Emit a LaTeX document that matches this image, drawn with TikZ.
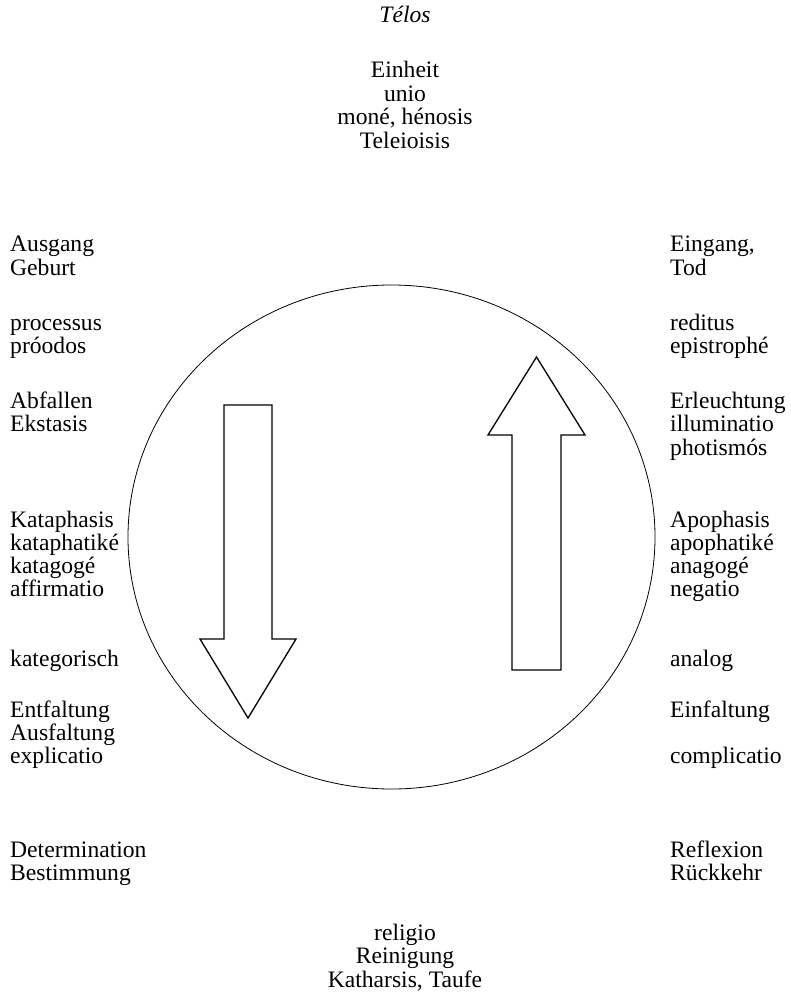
\documentclass[tikz,border=0pt]{standalone}
\usepackage{fontspec}
\setmainfont{Liberation Serif}
\begin{document}
\begin{tikzpicture}[x=1pt,y=-1pt,
  lbl/.style={inner sep=0pt,font=\fontsize{23.6}{26}\selectfont},
  lft/.style={lbl,anchor=base west},
  ctr/.style={lbl,anchor=base},
  bigarrow/.style={draw,line width=1.3pt,line join=miter,fill=white},
  ring/.style={draw,line width=0.8pt}]
\useasboundingbox (0,0) rectangle (790,1000);
\path[fill=white] (0,0) rectangle (790,1000);
% circle
\draw[ring] (391.5,537) ellipse [x radius=263.5, y radius=252];
% arrows
\draw[bigarrow] (224,405) -- (272,405) -- (272,639) -- (296,639) -- (248,718) -- (200,639) -- (224,639) -- cycle;
\draw[bigarrow] (512,670) -- (561,670) -- (561,435) -- (585,435) -- (536.5,357) -- (488,435) -- (512,435) -- cycle;
% top
\foreach \n/\y/\t in {t1/22.7/{\textit{Télos}}, t2/78/{Einheit}, t3/101.7/{unio}, t4/125/{moné, hénosis}, t5/149/{Teleioisis}}
  \node[ctr] (\n) at (405,\y) {\t};
% bottom
\foreach \n/\y/\t in {b1/940/{religio}, b2/963/{Reinigung}, b3/987/{Katharsis, Taufe}}
  \node[ctr] (\n) at (405,\y) {\t};
% left
\foreach \n/\y/\t in {l1/251.7/{Ausgang}, l2/275/{Geburt}, l3/330/{processus}, l4/353.3/{próodos},
  l5/408/{Abfallen}, l6/431.7/{Ekstasis}, l7/527/{Kataphasis}, l8/550/{kataphatiké}, l9/573/{katagogé},
  l10/596/{affirmatio}, l11/666/{kategorisch}, l12/717/{Entfaltung}, l13/740/{Ausfaltung},
  l14/763/{explicatio}, l15/857/{Determination}, l16/880/{Bestimmung}}
  \node[lft] (\n) at (10,\y) {\t};
% right
\foreach \n/\y/\t in {r1/251.7/{Eingang,}, r2/275/{Tod}, r3/330/{reditus}, r4/353.3/{epistrophé},
  r5/408/{Erleuchtung}, r6/431.7/{illuminatio}, r7/455/{photismós}, r8/527/{Apophasis},
  r9/550/{apophatiké}, r10/573/{anagogé}, r11/596/{negatio}, r12/666/{analog},
  r13/717/{Einfaltung}, r14/763/{complicatio}, r15/857/{Reflexion}, r16/880/{Rückkehr}}
  \node[lft] (\n) at (670,\y) {\t};
\end{tikzpicture}
\end{document}
